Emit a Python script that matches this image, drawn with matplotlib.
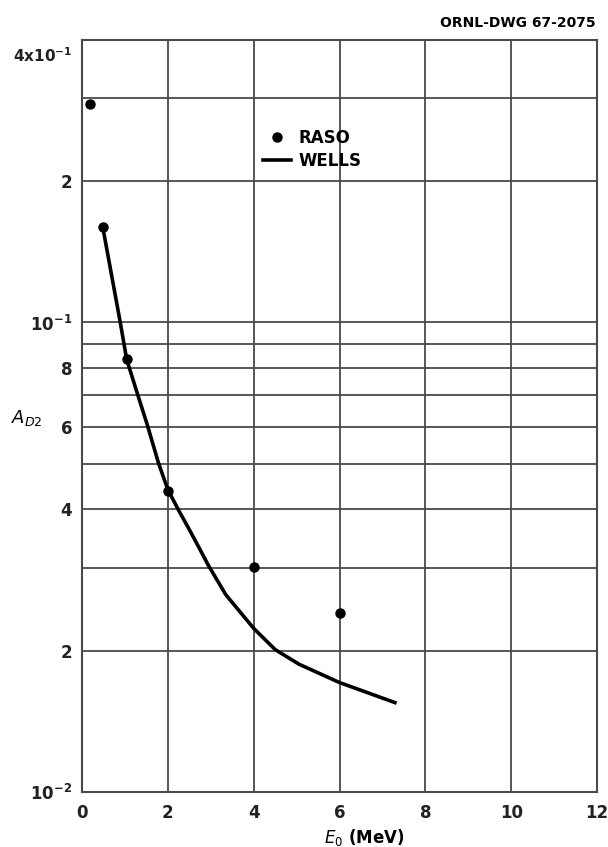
import matplotlib
matplotlib.use("Agg")
import matplotlib.pyplot as plt
from matplotlib.transforms import ScaledTranslation

# RASO data points (E0 in MeV, A_D2)
raso_e = [0.19, 0.48, 1.04, 2.0, 4.0, 6.0]
raso_a = [0.292, 0.160, 0.0834, 0.0437, 0.0302, 0.0240]

# WELLS curve
wells_e = [0.48, 0.89, 1.04, 1.30, 1.52, 1.78, 2.0, 2.27, 2.50, 2.72, 2.95, 3.35, 4.0,
           4.5, 5.06, 6.0, 6.63, 7.29]
wells_a = [0.160, 0.100, 0.0834, 0.070, 0.0605, 0.0502, 0.0440, 0.0395, 0.0362, 0.0332,
           0.0303, 0.0263, 0.0223, 0.0201, 0.0187, 0.0171, 0.0163, 0.0155]

x_ticks = [0, 2, 4, 6, 8, 10, 12]
y_major = [0.01, 0.02, 0.04, 0.06, 0.08, 0.1, 0.2, 0.4]
y_major_labels = [r"$10^{-2}$", "2", "4", "6", "8", r"$10^{-1}$", "2", r"4x$10^{-1}$"]
y_minor = [0.03, 0.05, 0.07, 0.09, 0.3]

plt.rcParams["font.family"] = ["DejaVu Sans"]
plt.rcParams["mathtext.default"] = "regular"

fig = plt.figure(figsize=(6.08, 8.47), dpi=100)
ax = fig.add_axes([0.135, 0.065, 0.847, 0.888])

gc = "#4a4a4a"
ax.plot(wells_e, wells_a, color="black", linewidth=2.6, label="WELLS", zorder=3,
        solid_joinstyle="round")
ax.plot(raso_e, raso_a, linestyle="none", marker="o", markersize=6.5, color="black",
        label="RASO", zorder=4)

ax.set_yscale("log")
ax.set_xlim(0, 12)
ax.set_ylim(0.01, 0.4)
ax.set_xticks(x_ticks)
ax.set_xticklabels([str(v) for v in x_ticks])
ax.set_yticks(y_major)
ax.set_yticklabels(y_major_labels)
ax.set_yticks(y_minor, minor=True)
ax.yaxis.set_minor_formatter(plt.NullFormatter())
ax.tick_params(which="both", length=0, labelsize=12, colors="#222222")
ax.tick_params(axis="x", pad=9)
ax.tick_params(axis="y", pad=7)
for lab in ax.get_xticklabels() + ax.get_yticklabels():
    lab.set_fontweight("bold")
# the top label sits a little below its grid line in the drawing
top_lab = ax.get_yticklabels()[-1]
top_lab.set_fontsize(11)
top_lab.set_transform(top_lab.get_transform() + ScaledTranslation(0, -0.14, fig.dpi_scale_trans))

ax.grid(True, which="both", axis="y", color=gc, linewidth=1.3)
ax.grid(True, which="major", axis="x", color=gc, linewidth=1.3)
for sp in ax.spines.values():
    sp.set_color(gc)
    sp.set_linewidth(1.5)

ax.set_xlabel(r"$\mathit{E_0}$ (MeV)", fontsize=12, fontweight="bold")
ax.xaxis.set_label_coords(0.548, -0.046)
ax.set_ylabel(r"$\mathit{A_{D2}}$", fontsize=13, fontweight="bold", rotation=0,
              ha="center", va="center")
ax.yaxis.set_label_coords(-0.107, 0.497)

handles, labels = ax.get_legend_handles_labels()
leg = ax.legend(handles[::-1], labels[::-1], loc="upper left", bbox_to_anchor=(0.338, 0.89),
                frameon=False, fontsize=12, handlelength=1.7, handletextpad=0.42,
                labelspacing=0.3, borderaxespad=0)
for t in leg.get_texts():
    t.set_fontweight("bold")

fig.text(0.98, 0.973, "ORNL-DWG 67-2075", ha="right", va="center", fontsize=10,
         fontweight="bold")

fig.savefig("out.png", dpi=100, facecolor="white")
